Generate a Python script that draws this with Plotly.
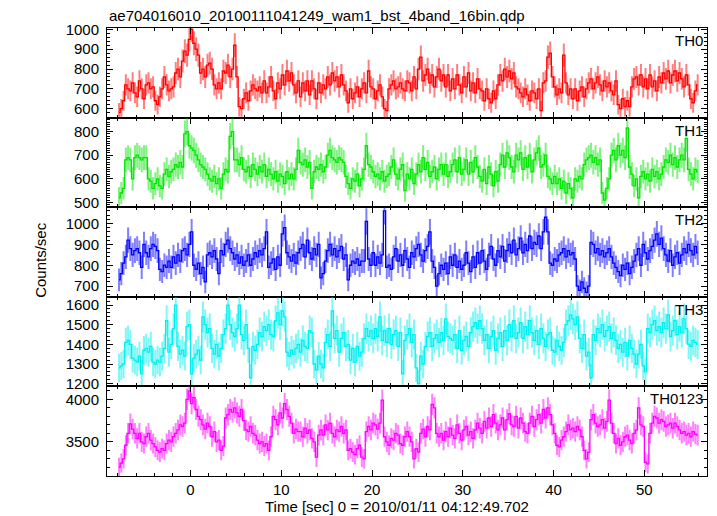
import numpy as np
import plotly.graph_objects as go
from plotly.subplots import make_subplots

TITLE = "ae704016010_20100111041249_wam1_bst_4band_16bin.qdp"
X_TITLE = "Time [sec] 0 = 2010/01/11 04:12:49.702"
Y_TITLE = "Counts/sec"
BIN = 0.25          # seconds per bin
T_START = -7.875    # centre of first bin

panel_names = ["TH0", "TH1", "TH2", "TH3", "TH0123"]

th0 = [
    580, 600, 640, 720, 700, 690, 730, 680, 660, 740, 700, 650, 720, 730, 700, 710,
    640, 620, 660, 700, 760, 720, 690, 700, 710, 780, 800, 760, 840, 890, 870, 950,
    1000, 930, 900, 870, 780, 800, 760, 820, 830, 800, 720, 700, 730, 700, 790, 780,
    820, 760, 800, 920, 760, 610, 600, 650, 680, 640, 690, 720, 700, 690, 710, 680,
    740, 680, 710, 760, 690, 650, 730, 700, 770, 720, 790, 740, 780, 720, 680, 740,
    660, 730, 690, 740, 670, 740, 700, 650, 730, 680, 720, 700, 760, 720, 780, 740,
    760, 710, 770, 720, 690, 630, 700, 650, 680, 710, 660, 700, 730, 680, 790, 710,
    700, 650, 690, 720, 660, 600, 590, 700, 720, 740, 700, 710, 730, 700, 690, 740,
    730, 690, 760, 700, 800, 860, 740, 770, 800, 730, 770, 710, 760, 800, 740, 770,
    710, 770, 690, 750, 700, 770, 720, 680, 760, 710, 780, 690, 730, 680, 750, 700,
    690, 640, 700, 650, 630, 690, 650, 720, 770, 740, 800, 760, 790, 750, 780, 710,
    700, 680, 660, 700, 670, 640, 690, 680, 650, 700, 590, 730, 740, 860, 880, 760,
    710, 670, 700, 680, 870, 730, 670, 700, 650, 700, 640, 690, 710, 660, 700, 730,
    750, 700, 730, 760, 720, 690, 740, 710, 730, 690, 670, 740, 620, 600, 650, 610,
    640, 610, 710, 750, 760, 720, 770, 710, 750, 700, 770, 710, 740, 690, 760, 730,
    780, 750, 790, 730, 770, 790, 740, 780, 750, 710, 770, 720, 650, 630, 690, 720,
]

th1 = [
    520, 540, 560, 680, 690, 680, 600, 690, 700, 690, 680, 690, 690, 600, 590, 560,
    580, 600, 570, 560, 620, 640, 610, 630, 640, 660, 650, 670, 650, 790, 800, 740,
    730, 720, 700, 680, 660, 650, 640, 620, 600, 590, 610, 580, 600, 560, 620, 640,
    630, 780, 800, 680, 680, 660, 690, 640, 630, 650, 610, 660, 640, 620, 650, 630,
    660, 610, 640, 620, 600, 630, 590, 620, 610, 580, 630, 600, 620, 600, 640, 720,
    670, 660, 680, 650, 670, 560, 630, 650, 640, 660, 630, 650, 700, 720, 690, 680,
    670, 690, 680, 670, 610, 580, 560, 600, 590, 620, 570, 600, 640, 740, 660, 650,
    630, 610, 620, 600, 630, 590, 610, 620, 650, 680, 620, 600, 640, 660, 550, 620,
    600, 640, 580, 620, 660, 630, 690, 640, 670, 610, 630, 650, 600, 640, 660, 620,
    660, 610, 630, 660, 680, 630, 690, 620, 640, 680, 620, 670, 630, 690, 650, 610,
    590, 640, 580, 650, 620, 570, 630, 590, 660, 700, 650, 710, 690, 650, 630, 700,
    680, 710, 640, 690, 650, 700, 630, 680, 710, 730, 650, 660, 700, 610, 600, 580,
    610, 580, 600, 560, 590, 540, 580, 560, 520, 600, 590, 610, 600, 660, 680, 690,
    700, 670, 690, 660, 680, 540, 510, 560, 600, 700, 720, 680, 740, 700, 720, 690,
    815, 650, 620, 570, 600, 520, 610, 630, 600, 620, 590, 640, 610, 630, 600, 620,
    650, 680, 670, 700, 660, 690, 650, 680, 700, 680, 770, 640, 620, 600, 640, 630,
]

th2 = [
    730, 760, 810, 840, 920, 880, 850, 870, 880, 860, 790, 900, 860, 840, 880, 900,
    890, 870, 780, 770, 800, 790, 820, 790, 840, 810, 850, 820, 870, 880, 850, 900,
    960, 800, 780, 810, 760, 790, 720, 850, 860, 840, 870, 830, 760, 870, 850, 900,
    920, 880, 860, 830, 850, 810, 840, 800, 820, 850, 800, 830, 860, 840, 870, 850,
    880, 960, 790, 810, 830, 780, 840, 800, 950, 980, 860, 840, 820, 850, 810, 860,
    880, 900, 840, 920, 860, 830, 880, 850, 900, 740, 760, 820, 870, 900, 850, 880,
    840, 870, 890, 830, 850, 730, 800, 820, 810, 830, 800, 820, 820, 1010, 830, 800,
    860, 800, 840, 810, 850, 1060, 790, 800, 780, 840, 880, 820, 850, 800, 870, 830,
    790, 860, 840, 880, 900, 850, 820, 870, 890, 960, 820, 790, 700, 760, 800, 780,
    810, 760, 840, 800, 850, 790, 820, 780, 800, 860, 810, 770, 840, 790, 860, 810,
    870, 820, 780, 850, 890, 830, 800, 870, 840, 890, 820, 870, 900, 860, 920, 850,
    880, 930, 860, 900, 870, 940, 880, 910, 900, 940, 880, 960, 1030, 960, 810, 800,
    830, 820, 850, 860, 880, 840, 870, 850, 860, 830, 700, 680, 720, 690, 670, 700,
    910, 900, 860, 880, 850, 870, 840, 860, 880, 840, 810, 790, 770, 750, 800, 780,
    810, 760, 790, 820, 850, 880, 800, 900, 860, 830, 870, 890, 920, 950, 900, 930,
    880, 850, 820, 870, 800, 840, 860, 810, 850, 880, 860, 900, 870, 850, 890, 860,
]

th3 = [
    1280, 1290, 1300, 1410, 1420, 1400, 1330, 1320, 1310, 1340, 1250, 1370, 1380, 1360, 1390, 1310,
    1300, 1320, 1310, 1340, 1380, 1520, 1360, 1400, 1480, 1600, 1390, 1350, 1370, 1340, 1490, 1500,
    1250, 1330, 1350, 1370, 1320, 1540, 1500, 1460, 1480, 1380, 1350, 1400, 1340, 1380, 1450, 1480,
    1600, 1500, 1460, 1440, 1480, 1600, 1450, 1420, 1500, 1380, 1230, 1390, 1370, 1400, 1460, 1440,
    1490, 1470, 1500, 1450, 1440, 1520, 1560, 1500, 1570, 1540, 1360, 1340, 1370, 1350, 1380, 1400,
    1360, 1420, 1390, 1380, 1470, 1460, 1300, 1270, 1340, 1300, 1280, 1410, 1450, 1390, 1570, 1430,
    1470, 1360, 1430, 1460, 1390, 1400, 1320, 1380, 1310, 1390, 1340, 1360, 1430, 1480, 1440, 1470,
    1430, 1480, 1440, 1540, 1420, 1470, 1410, 1480, 1400, 1450, 1470, 1390, 1460, 1250, 1420, 1450,
    1480, 1410, 1450, 1280, 1200, 1340, 1300, 1390, 1440, 1460, 1390, 1430, 1450, 1410, 1460, 1420,
    1530, 1440, 1430, 1420, 1450, 1380, 1470, 1370, 1420, 1440, 1390, 1460, 1490, 1510, 1480, 1520,
    1480, 1420, 1450, 1380, 1440, 1470, 1370, 1430, 1460, 1390, 1470, 1420, 1500, 1440, 1520, 1430,
    1460, 1510, 1430, 1490, 1450, 1520, 1460, 1420, 1470, 1400, 1480, 1430, 1390, 1450, 1460, 1370,
    1360, 1420, 1390, 1370, 1410, 1500, 1520, 1550, 1530, 1500, 1540, 1430, 1380, 1450, 1340, 1360,
    1230, 1450, 1420, 1480, 1460, 1500, 1440, 1470, 1490, 1430, 1460, 1420, 1380, 1400, 1360, 1410,
    1340, 1420, 1380, 1350, 1300, 1350, 1400, 1290, 1260, 1480, 1460, 1500, 1520, 1470, 1490, 1460,
    1510, 1480, 1550, 1440, 1470, 1520, 1450, 1490, 1460, 1530, 1480, 1400, 1390, 1420, 1410, 1400,
]

th0123 = [
    3200, 3250, 3300, 3460, 3600, 3710, 3650, 3600, 3540, 3600, 3500, 3480, 3560, 3600, 3520, 3480,
    3440, 3400, 3380, 3420, 3400, 3480, 3520, 3500, 3560, 3600, 3640, 3700, 3680, 3720, 4000, 4100,
    3950, 4020, 3880, 3800, 3760, 3700, 3650, 3720, 3680, 3560, 3620, 3500, 3520, 3400, 3450, 3780,
    3820, 3880, 3850, 3900, 3840, 3800, 3880, 3750, 3640, 3620, 3680, 3600, 3580, 3520, 3480, 3500,
    3450, 3480, 3400, 3560, 3800, 3760, 3700, 3840, 3780, 3950, 3880, 3800, 3720, 3600, 3650, 3620,
    3620, 3560, 3660, 3600, 3640, 3540, 3500, 3320, 3580, 3640, 3580, 3700, 3640, 3720, 3600, 3560,
    3640, 3620, 3680, 3600, 3640, 3400, 3420, 3380, 3350, 3420, 3460, 3320, 3300, 3620, 3680, 3640,
    3720, 3700, 3650, 3720, 3990, 3560, 3500, 3460, 3540, 3520, 3600, 3580, 3480, 3460, 3560, 3620,
    3560, 3500, 3300, 3420, 3380, 3600, 3650, 3560, 3680, 3640, 3940, 3900, 3600, 3560, 3600, 3520,
    3620, 3560, 3660, 3580, 3540, 3700, 3600, 3520, 3640, 3680, 3580, 3620, 3540, 3640, 3720, 3660,
    3600, 3740, 3660, 3780, 3680, 3820, 3720, 3640, 3700, 3780, 3640, 3760, 3830, 3700, 3680, 3800,
    3660, 3780, 3720, 3620, 3600, 3720, 3800, 3680, 3760, 3820, 3720, 3880, 3780, 3900, 3820, 3700,
    3600, 3460, 3440, 3520, 3560, 3620, 3700, 3640, 3660, 3620, 3680, 3640, 3560, 3400, 3300, 3380,
    3760, 3820, 3720, 3680, 3700, 3760, 3660, 3740, 3990, 3720, 3600, 3480, 3540, 3460, 3500, 3560,
    3580, 3520, 3480, 3600, 3640, 3900, 3700, 3680, 3260, 3240, 3600, 3720, 3800, 3780, 3720, 3760,
    3740, 3680, 3700, 3720, 3660, 3720, 3680, 3640, 3600, 3620, 3580, 3600, 3560, 3620, 3590, 3580,
]

series = [th0, th1, th2, th3, th0123]

y_ranges = [[555, 1007], [480, 859], [649, 1078], [1186, 1642], [3098, 4152]]
y_dticks = [100, 100, 100, 100, 500]
y_minor = [20, 10, 20, 20, 100]
x_range = [-9.2, 56.9]

colors = ["255,0,0", "0,230,0", "0,0,255", "0,240,240", "255,0,255"]

FONT = "Liberation Sans, Arial, Helvetica, sans-serif"

fig = make_subplots(rows=5, cols=1, shared_xaxes=True, vertical_spacing=0)

for i, (vals, name, col) in enumerate(zip(series, panel_names, colors)):
    v = np.array(vals, dtype=float)
    t = T_START + BIN * np.arange(len(v))
    err = np.sqrt(v * BIN) / BIN  # Poisson error of the rate
    fig.add_trace(
        go.Scatter(
            x=t, y=v, mode="lines", name=name, showlegend=False,
            line=dict(color=f"rgb({col})", width=1.3, shape="hvh"),
            error_y=dict(type="data", array=err, visible=True,
                         color=f"rgba({col},0.5)", thickness=2, width=0),
            hoverinfo="x+y",
        ),
        row=i + 1, col=1,
    )
    fig.update_yaxes(
        range=y_ranges[i], dtick=y_dticks[i], tick0=0,
        minor=dict(ticks="inside", dtick=y_minor[i], ticklen=3, tickcolor="black", tickwidth=1),
        row=i + 1, col=1,
    )
    yref = "y domain" if i == 0 else f"y{i + 1} domain"
    fig.add_annotation(
        text=name, xref="x domain", yref=yref, x=1, y=1,
        xanchor="right", yanchor="top", xshift=-2, yshift=-2,
        showarrow=False, font=dict(family=FONT, size=15, color="black"),
    )

fig.update_xaxes(
    range=x_range, dtick=10, tick0=0,
    showline=True, linecolor="black", linewidth=1, mirror="allticks",
    ticks="inside", ticklen=6, tickcolor="black", tickwidth=1,
    minor=dict(ticks="inside", dtick=2, ticklen=3, tickcolor="black", tickwidth=1),
    showgrid=False, zeroline=False,
    tickfont=dict(family=FONT, size=15, color="black"),
)
fig.update_xaxes(showticklabels=True, row=5, col=1)
fig.update_yaxes(
    showline=True, linecolor="black", linewidth=1, mirror="allticks",
    ticks="inside", ticklen=6, tickcolor="black", tickwidth=1,
    showgrid=False, zeroline=False,
    tickfont=dict(family=FONT, size=15, color="black"),
    ticklabelstandoff=4,
)

fig.add_annotation(
    text=TITLE, xref="paper", yref="paper", x=0, y=1, xanchor="left", yanchor="bottom",
    yshift=2, showarrow=False, font=dict(family=FONT, size=15, color="black"),
)
fig.add_annotation(
    text=Y_TITLE, xref="paper", yref="paper", x=-0.112, y=0.482, textangle=-90,
    xanchor="center", yanchor="middle", showarrow=False,
    font=dict(family=FONT, size=15, color="black"),
)
fig.add_annotation(
    text=X_TITLE, xref="paper", yref="paper", x=0.483, y=-0.067,
    xanchor="center", yanchor="middle", showarrow=False,
    font=dict(family=FONT, size=15, color="black"),
)

fig.update_layout(
    width=717, height=516,
    margin=dict(l=107, r=10, t=28, b=40),
    paper_bgcolor="white", plot_bgcolor="white",
    font=dict(family=FONT, size=15, color="black"),
)

fig.write_html(
    "out.html",
    config={"displayModeBar": False},
    post_script="document.body.style.margin='0';document.body.style.padding='0';",
)
